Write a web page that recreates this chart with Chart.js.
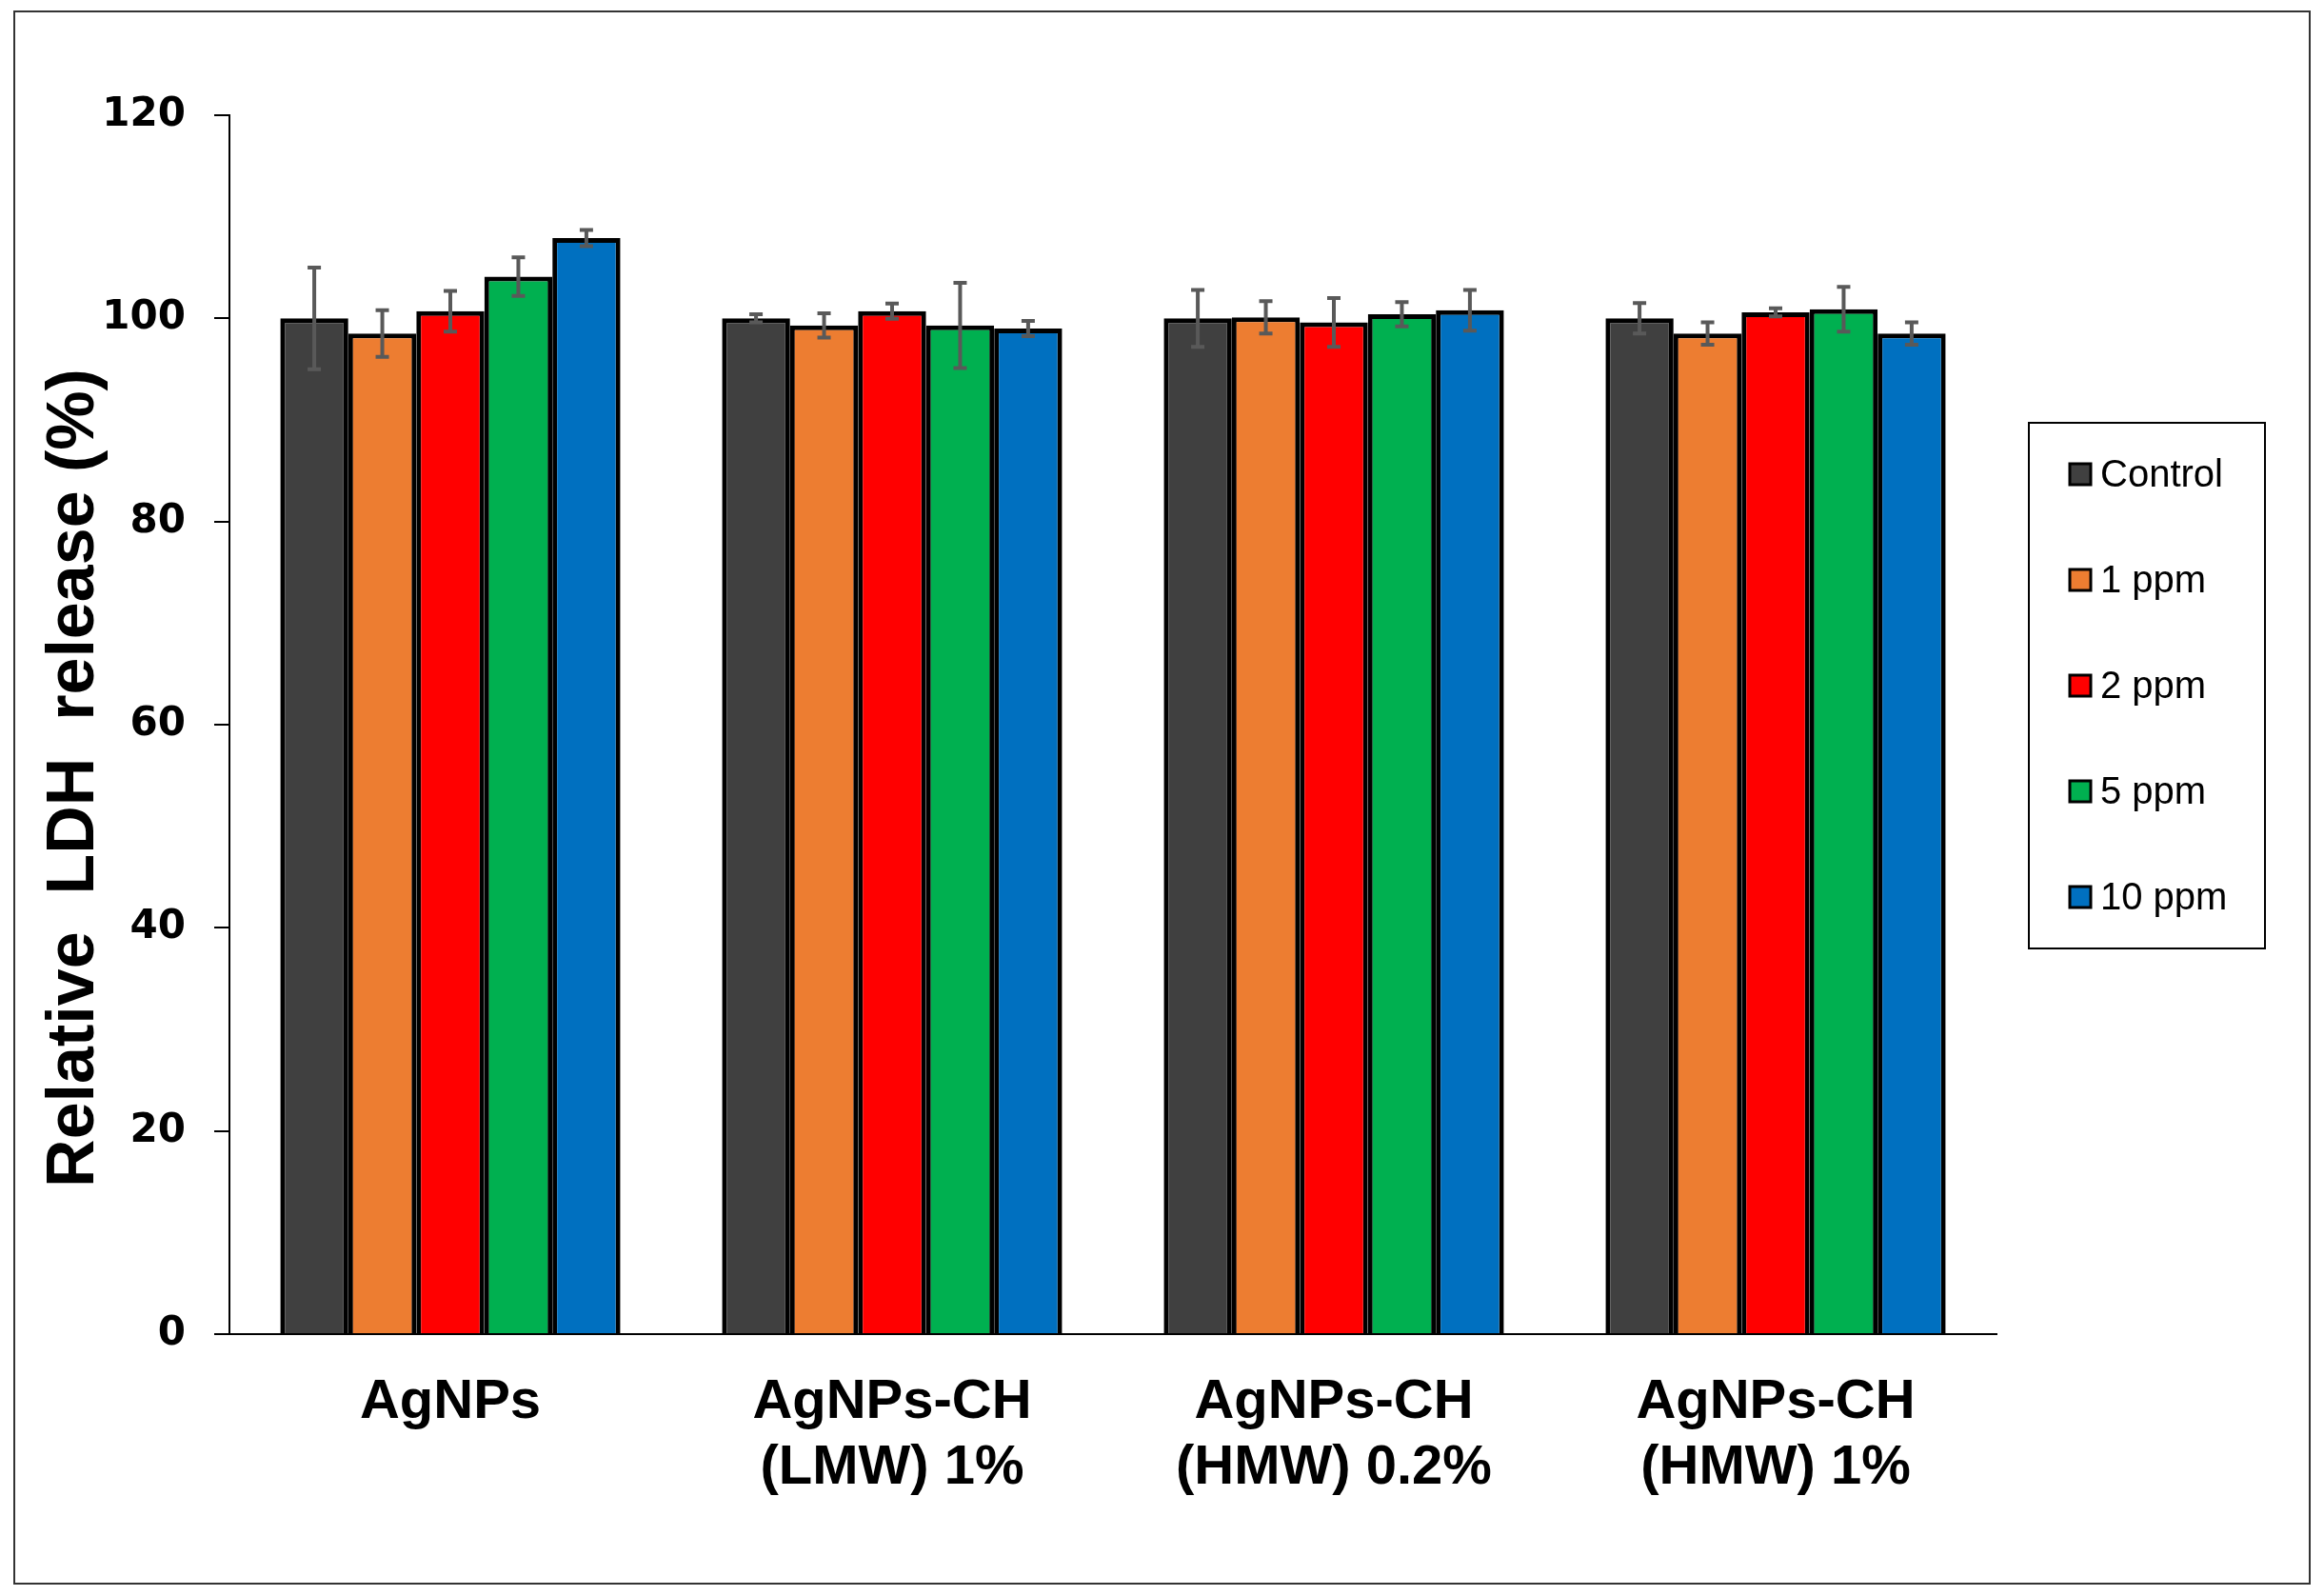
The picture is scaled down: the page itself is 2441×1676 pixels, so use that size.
<!DOCTYPE html>
<html>
<head>
<meta charset="utf-8">
<script src="https://cdn.jsdelivr.net/npm/chart.js@4.4.1/dist/chart.umd.min.js"></script>
<style>
    html, body { margin: 0; padding: 0; background: #ffffff; }
    #wrap { width: 2441px; height: 1676px; }
</style>
</head>
<body>
<div id="wrap"><canvas id="ldhChart" width="2441" height="1676"></canvas></div>
<script>
// Chart data
const categories = ['AgNPs', ['AgNPs-CH', '(LMW) 1%'], ['AgNPs-CH', '(HMW) 0.2%'], ['AgNPs-CH', '(HMW) 1%']];
const seriesNames = ['Control', '1 ppm', '2 ppm', '5 ppm', '10 ppm'];
const controlValues = [100, 100, 100, 100];
const ppm1Values = [98.5, 99.3, 100.1, 98.5];
const ppm2Values = [100.7, 100.7, 99.6, 100.6];
const ppm5Values = [104.1, 99.3, 100.4, 100.9];
const ppm10Values = [107.9, 99.0, 100.8, 98.5];
const controlErr = [5.0, 0.4, 2.8, 1.5];
const ppm1Err = [2.3, 1.2, 1.6, 1.1];
const ppm2Err = [2.0, 0.75, 2.4, 0.4];
const ppm5Err = [1.9, 4.2, 1.2, 2.2];
const ppm10Err = [0.8, 0.75, 2.0, 1.1];
const yTicks = [0, 20, 40, 60, 80, 100, 120];
const yTitle = 'Relative  LDH  release (%)';

const seriesValues = [controlValues, ppm1Values, ppm2Values, ppm5Values, ppm10Values];
const seriesErrors = [controlErr, ppm1Err, ppm2Err, ppm5Err, ppm10Err];
const seriesColors = ['#404040', '#ED7D31', '#FF0000', '#00B050', '#0070C0'];

// Error bars drawn from the y scale
const errorBarPlugin = {
    id: 'errorBars',
    afterDatasetsDraw(chart) {
        const ctx = chart.ctx;
        const yScale = chart.scales.y;
        ctx.save();
        ctx.strokeStyle = '#595959';
        ctx.lineWidth = 4;
        chart.data.datasets.forEach((ds, di) => {
            const meta = chart.getDatasetMeta(di);
            meta.data.forEach((bar, i) => {
                const v = ds.data[i];
                const e = ds.errors[i];
                const yTop = yScale.getPixelForValue(v + e);
                const yBot = yScale.getPixelForValue(v - e);
                const x = bar.x;
                ctx.beginPath();
                ctx.moveTo(x, yTop);
                ctx.lineTo(x, yBot);
                ctx.moveTo(x - 7, yTop);
                ctx.lineTo(x + 7, yTop);
                ctx.moveTo(x - 7, yBot);
                ctx.lineTo(x + 7, yBot);
                ctx.stroke();
            });
        });
        ctx.restore();
    }
};

// Outer frame, y title and boxed legend
const framePlugin = {
    id: 'frame',
    afterDraw(chart) {
        const ctx = chart.ctx;
        ctx.save();
        ctx.strokeStyle = '#333333';
        ctx.lineWidth = 2;
        ctx.strokeRect(15, 12, 2411, 1651);

        // y axis title, placed a bit below the axis centre like the original
        ctx.save();
        ctx.translate(98, 817);
        ctx.rotate(-Math.PI / 2);
        ctx.font = 'bold 70px "Liberation Sans", Arial, sans-serif';
        ctx.fillStyle = '#000000';
        ctx.textAlign = 'center';
        ctx.textBaseline = 'alphabetic';
        ctx.fillText(yTitle, 0, 0);
        ctx.restore();

        // legend box
        ctx.strokeStyle = '#000000';
        ctx.lineWidth = 2;
        ctx.strokeRect(2131, 444, 248, 552);
        ctx.font = '40px "Liberation Sans", Arial, sans-serif';
        ctx.textBaseline = 'middle';
        chart.data.datasets.forEach((ds, i) => {
            const cy = 498 + i * 111;
            ctx.fillStyle = ds.backgroundColor;
            ctx.fillRect(2174, cy - 11, 22, 22);
            ctx.lineWidth = 3;
            ctx.strokeRect(2174, cy - 11, 22, 22);
            ctx.fillStyle = '#000000';
            ctx.fillText(ds.label, 2206, cy + 2);
        });
        ctx.restore();
    }
};

document.addEventListener('DOMContentLoaded', () => {
    const ctx = document.getElementById('ldhChart').getContext('2d');
    new Chart(ctx, {
        type: 'bar',
        data: {
            labels: categories,
            datasets: seriesNames.map((name, i) => ({
                label: name,
                data: seriesValues[i],
                errors: seriesErrors[i],
                backgroundColor: seriesColors[i],
                borderColor: '#000000',
                borderWidth: 5,
                borderSkipped: 'bottom',
                categoryPercentage: 0.77,
                barPercentage: 1.0
            }))
        },
        options: {
            responsive: false,
            devicePixelRatio: 1,
            animation: false,
            layout: {
                padding: { left: 15, right: 344, top: 121, bottom: 75 }
            },
            plugins: {
                legend: { display: false },
                tooltip: { enabled: false }
            },
            scales: {
                x: {
                    grid: { display: false, drawTicks: false },
                    border: { display: true, color: '#000000', width: 2 },
                    ticks: {
                        color: '#000000',
                        padding: 37,
                        maxRotation: 0,
                        autoSkip: false,
                        font: { family: '"Liberation Sans", Arial, sans-serif', size: 58, weight: 'bold', lineHeight: 1.2 }
                    },
                    afterFit(scale) { scale.height = 200; }
                },
                y: {
                    min: 0,
                    max: 120,
                    afterBuildTicks(scale) { scale.ticks = yTicks.map(v => ({ value: v })); },
                    grid: { display: true, drawOnChartArea: false, drawTicks: true, tickLength: 16, color: '#000000', lineWidth: 2 },
                    border: { display: true, color: '#000000', width: 2 },
                    ticks: {
                        color: '#000000',
                        padding: 30,
                        font: { family: '"DejaVu Sans", sans-serif', size: 42, weight: 'bold' }
                    },
                    title: { display: false },
                    afterFit(scale) { scale.width = 226; }
                }
            }
        },
        plugins: [errorBarPlugin, framePlugin]
    });
});
</script>
</body>
</html>
